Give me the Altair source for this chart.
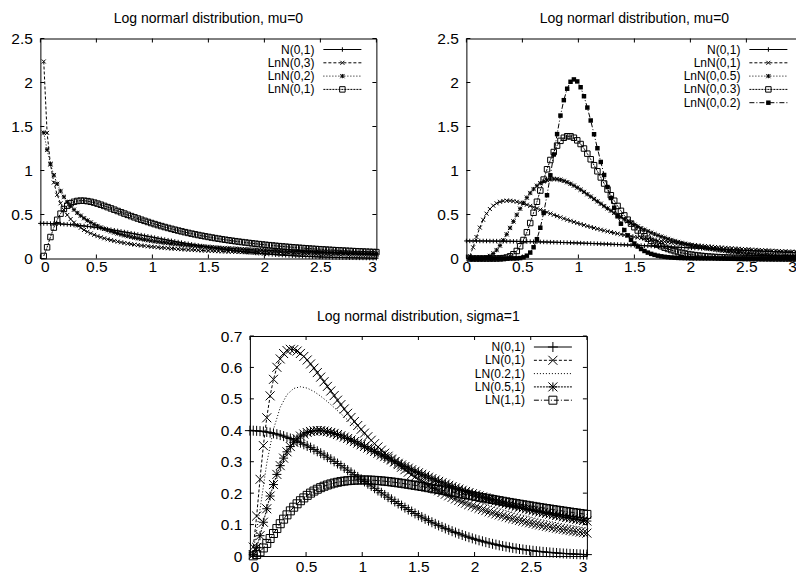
import altair as alt
import pandas as pd

FONT = "Liberation Sans"

# ---------------- data ----------------
# samples at x = 0.03, 0.09, ..., 2.97, 3.00 (coarse) and x = 0.06, 0.12, ..., 2.94 (mid)
x_norm = [0.00, 0.03, 0.09, 0.15, 0.21, 0.27, 0.33, 0.39, 0.45, 0.51, 0.57, 0.63, 0.69,
          0.75, 0.81, 0.87, 0.93, 0.99, 1.05, 1.11, 1.17, 1.23, 1.29, 1.35, 1.41, 1.47,
          1.53, 1.59, 1.65, 1.71, 1.77, 1.83, 1.89, 1.95, 2.01, 2.07, 2.13, 2.19, 2.25,
          2.31, 2.37, 2.43, 2.49, 2.55, 2.61, 2.67, 2.73, 2.79, 2.85, 2.91, 2.97, 3.00]
x_logn = [0.03, 0.09, 0.15, 0.21, 0.27, 0.33, 0.39, 0.45, 0.51, 0.57, 0.63, 0.69,
          0.75, 0.81, 0.87, 0.93, 0.99, 1.05, 1.11, 1.17, 1.23, 1.29, 1.35, 1.41, 1.47,
          1.53, 1.59, 1.65, 1.71, 1.77, 1.83, 1.89, 1.95, 2.01, 2.07, 2.13, 2.19, 2.25,
          2.31, 2.37, 2.43, 2.49, 2.55, 2.61, 2.67, 2.73, 2.79, 2.85, 2.91, 2.97, 3.00]
x_mid = [0.06, 0.12, 0.18, 0.24, 0.30, 0.36, 0.42, 0.48, 0.54, 0.60, 0.66, 0.72, 0.78,
         0.84, 0.90, 0.96, 1.02, 1.08, 1.14, 1.20, 1.26, 1.32, 1.38, 1.44, 1.50, 1.56,
         1.62, 1.68, 1.74, 1.80, 1.86, 1.92, 1.98, 2.04, 2.10, 2.16, 2.22, 2.28, 2.34,
         2.40, 2.46, 2.52, 2.58, 2.64, 2.70, 2.76, 2.82, 2.88, 2.94]

n_0_1 = [0.3989, 0.3988, 0.3973, 0.3945, 0.3902, 0.3847, 0.3778, 0.3697, 0.3605, 0.3503,
         0.3391, 0.3271, 0.3144, 0.3011, 0.2874, 0.2732, 0.2589, 0.2444, 0.2299, 0.2155,
         0.2012, 0.1872, 0.1736, 0.1604, 0.1476, 0.1354, 0.1238, 0.1127, 0.1023, 0.0925,
         0.0833, 0.0748, 0.0669, 0.0596, 0.0529, 0.0468, 0.0413, 0.0363, 0.0317, 0.0277,
         0.0241, 0.0208, 0.0180, 0.0154, 0.0132, 0.0113, 0.0096, 0.0081, 0.0069, 0.0058,
         0.0048, 0.0044]
n_0_1_mid = [0.3982, 0.3961, 0.3925, 0.3876, 0.3814, 0.3739, 0.3653, 0.3555, 0.3448,
             0.3332, 0.3209, 0.3079, 0.2943, 0.2803, 0.2661, 0.2516, 0.2371, 0.2227,
             0.2083, 0.1942, 0.1804, 0.1669, 0.1539, 0.1415, 0.1295, 0.1182, 0.1074,
             0.0973, 0.0878, 0.0789, 0.0707, 0.0632, 0.0562, 0.0498, 0.0440, 0.0387,
             0.0339, 0.0297, 0.0258, 0.0224, 0.0194, 0.0167, 0.0143, 0.0122, 0.0104,
             0.0088, 0.0075, 0.0063, 0.0053]
n_flat = [0.1995, 0.1995, 0.1993, 0.1989, 0.1984, 0.1977, 0.1968, 0.1957, 0.1945, 0.1931,
          0.1915, 0.1898, 0.1880, 0.1859, 0.1838, 0.1815, 0.1790, 0.1765, 0.1738, 0.1710,
          0.1681, 0.1651, 0.1620, 0.1588, 0.1556, 0.1523, 0.1489, 0.1454, 0.1419, 0.1384,
          0.1348, 0.1313, 0.1276, 0.1240, 0.1204, 0.1168, 0.1131, 0.1095, 0.1060, 0.1024,
          0.0989, 0.0954, 0.0919, 0.0885, 0.0851, 0.0818, 0.0786, 0.0754, 0.0723, 0.0692,
          0.0663, 0.0648]
n_flat_mid = [0.1994, 0.1991, 0.1987, 0.1980, 0.1972, 0.1963, 0.1951, 0.1938, 0.1923,
              0.1907, 0.1889, 0.1870, 0.1849, 0.1826, 0.1803, 0.1778, 0.1751, 0.1724,
              0.1696, 0.1666, 0.1636, 0.1604, 0.1572, 0.1539, 0.1506, 0.1472, 0.1437,
              0.1402, 0.1366, 0.1330, 0.1294, 0.1258, 0.1222, 0.1186, 0.1149, 0.1113,
              0.1077, 0.1042, 0.1006, 0.0971, 0.0936, 0.0902, 0.0868, 0.0835, 0.0802,
              0.0770, 0.0738, 0.0707, 0.0677]

lnn_0_3 = [2.2387, 1.0707, 0.7239, 0.5531, 0.4478, 0.3764, 0.3246, 0.2852, 0.2543, 0.2292,
           0.2086, 0.1913, 0.1765, 0.1638, 0.1527, 0.1430, 0.1343, 0.1266, 0.1197, 0.1135,
           0.1079, 0.1027, 0.0980, 0.0937, 0.0897, 0.0861, 0.0826, 0.0795, 0.0765, 0.0738,
           0.0712, 0.0688, 0.0665, 0.0644, 0.0624, 0.0605, 0.0587, 0.0570, 0.0554, 0.0538,
           0.0524, 0.0510, 0.0497, 0.0484, 0.0472, 0.0461, 0.0450, 0.0439, 0.0429, 0.0419,
           0.0415]
lnn_0_3_mid = [1.4278, 0.8633, 0.6274, 0.4948, 0.4090, 0.3486, 0.3037, 0.2689, 0.2411,
               0.2184, 0.1996, 0.1836, 0.1699, 0.1580, 0.1477, 0.1385, 0.1304, 0.1231,
               0.1165, 0.1106, 0.1052, 0.1003, 0.0958, 0.0917, 0.0879, 0.0843, 0.0810,
               0.0780, 0.0751, 0.0725, 0.0700, 0.0676, 0.0654, 0.0634, 0.0614, 0.0596,
               0.0578, 0.0562, 0.0546, 0.0531, 0.0517, 0.0503, 0.0490, 0.0478, 0.0466,
               0.0455, 0.0444, 0.0434, 0.0424]
lnn_0_2 = [1.4297, 1.0737, 0.8480, 0.7006, 0.5963, 0.5184, 0.4578, 0.4093, 0.3696, 0.3364,
           0.3083, 0.2842, 0.2632, 0.2449, 0.2287, 0.2143, 0.2015, 0.1899, 0.1795, 0.1700,
           0.1613, 0.1534, 0.1461, 0.1394, 0.1332, 0.1275, 0.1221, 0.1172, 0.1125, 0.1082,
           0.1041, 0.1003, 0.0968, 0.0934, 0.0902, 0.0872, 0.0844, 0.0817, 0.0791, 0.0767,
           0.0744, 0.0722, 0.0701, 0.0681, 0.0662, 0.0644, 0.0627, 0.0610, 0.0594, 0.0579,
           0.0572]
lnn_0_2_mid = [1.2360, 0.9477, 0.7673, 0.6443, 0.5547, 0.4863, 0.4323, 0.3885, 0.3523,
               0.3218, 0.2958, 0.2733, 0.2538, 0.2366, 0.2213, 0.2077, 0.1956, 0.1846,
               0.1746, 0.1655, 0.1573, 0.1497, 0.1427, 0.1362, 0.1303, 0.1247, 0.1196,
               0.1148, 0.1103, 0.1061, 0.1022, 0.0985, 0.0950, 0.0918, 0.0887, 0.0858,
               0.0830, 0.0804, 0.0779, 0.0755, 0.0733, 0.0711, 0.0691, 0.0672, 0.0653,
               0.0635, 0.0618, 0.0602, 0.0587]
lnn_0_1 = [0.0284, 0.2441, 0.4398, 0.5621, 0.6270, 0.6539, 0.6566, 0.6445, 0.6236, 0.5976,
           0.5691, 0.5397, 0.5104, 0.4817, 0.4541, 0.4278, 0.4030, 0.3795, 0.3575, 0.3368,
           0.3175, 0.2994, 0.2825, 0.2667, 0.2520, 0.2382, 0.2253, 0.2133, 0.2020, 0.1915,
           0.1816, 0.1724, 0.1637, 0.1556, 0.1479, 0.1407, 0.1340, 0.1276, 0.1216, 0.1160,
           0.1107, 0.1057, 0.1010, 0.0965, 0.0923, 0.0883, 0.0845, 0.0809, 0.0775, 0.0743,
           0.0727]
lnn_0_1_mid = [0.1271, 0.3512, 0.5095, 0.6004, 0.6442, 0.6576, 0.6520, 0.6349, 0.6110,
               0.5836, 0.5545, 0.5250, 0.4959, 0.4678, 0.4408, 0.4152, 0.3910, 0.3683,
               0.3470, 0.3270, 0.3083, 0.2908, 0.2745, 0.2592, 0.2450, 0.2317, 0.2192,
               0.2076, 0.1967, 0.1865, 0.1769, 0.1680, 0.1596, 0.1517, 0.1443, 0.1373,
               0.1308, 0.1246, 0.1188, 0.1133, 0.1082, 0.1033, 0.0987, 0.0943, 0.0902,
               0.0863, 0.0827, 0.0792, 0.0759]
lnn_0_05 = [0.0000, 0.0001, 0.0040, 0.0291, 0.0958, 0.2069, 0.3473, 0.4953, 0.6318, 0.7441,
            0.8264, 0.8780, 0.9016, 0.9013, 0.8822, 0.8490, 0.8058, 0.7563, 0.7033, 0.6492,
            0.5954, 0.5433, 0.4936, 0.4469, 0.4034, 0.3632, 0.3264, 0.2928, 0.2624, 0.2349,
            0.2100, 0.1877, 0.1677, 0.1498, 0.1337, 0.1194, 0.1066, 0.0952, 0.0850, 0.0759,
            0.0679, 0.0607, 0.0542, 0.0485, 0.0434, 0.0389, 0.0348, 0.0312, 0.0280, 0.0251,
            0.0238]
lnn_0_05_mid = [0.0000, 0.0008, 0.0124, 0.0566, 0.1465, 0.2748, 0.4217, 0.5660, 0.6914,
                0.7891, 0.8559, 0.8931, 0.9041, 0.8938, 0.8671, 0.8284, 0.7816, 0.7301,
                0.6763, 0.6221, 0.5691, 0.5181, 0.4698, 0.4247, 0.3829, 0.3444, 0.3092,
                0.2772, 0.2483, 0.2221, 0.1986, 0.1774, 0.1585, 0.1415, 0.1264, 0.1128,
                0.1007, 0.0900, 0.0803, 0.0718, 0.0642, 0.0574, 0.0513, 0.0459, 0.0411,
                0.0368, 0.0330, 0.0296, 0.0265]
lnn_0_03 = [0.0000, 0.0000, 0.0000, 0.0000, 0.0004, 0.0044, 0.0248, 0.0855, 0.2100, 0.4032,
            0.6447, 0.8969, 1.1196, 1.2828, 1.3724, 1.3887, 1.3425, 1.2499, 1.1277, 0.9911,
            0.8521, 0.7190, 0.5973, 0.4895, 0.3966, 0.3182, 0.2532, 0.2001, 0.1572, 0.1228,
            0.0955, 0.0741, 0.0572, 0.0441, 0.0339, 0.0261, 0.0200, 0.0153, 0.0117, 0.0090,
            0.0069, 0.0052, 0.0040, 0.0031, 0.0024, 0.0018, 0.0014, 0.0011, 0.0008, 0.0006,
            0.0005]
lnn_0_03_mid = [0.0000, 0.0000, 0.0000, 0.0001, 0.0014, 0.0112, 0.0484, 0.1389, 0.2988,
                0.5201, 0.7721, 1.0141, 1.2099, 1.3371, 1.3892, 1.3725, 1.3009, 1.1914,
                1.0604, 0.9213, 0.7844, 0.6565, 0.5415, 0.4412, 0.3557, 0.2842, 0.2253,
                0.1775, 0.1390, 0.1084, 0.0842, 0.0651, 0.0503, 0.0387, 0.0297, 0.0228,
                0.0175, 0.0134, 0.0103, 0.0078, 0.0060, 0.0046, 0.0035, 0.0027, 0.0021,
                0.0016, 0.0012, 0.0009, 0.0007]
lnn_0_02 = [0.0000, 0.0000, 0.0000, 0.0000, 0.0000, 0.0000, 0.0001, 0.0015, 0.0135, 0.0674,
            0.2196, 0.5171, 0.9452, 1.4137, 1.7992, 2.0082, 2.0123, 1.8440, 1.5683, 1.2528,
            0.9491, 0.6875, 0.4793, 0.3234, 0.2122, 0.1360, 0.0853, 0.0526, 0.0319, 0.0192,
            0.0114, 0.0067, 0.0039, 0.0022, 0.0013, 0.0007, 0.0004, 0.0002, 0.0001, 0.0001,
            0.0000, 0.0000, 0.0000, 0.0000, 0.0000, 0.0000, 0.0000, 0.0000, 0.0000, 0.0000,
            0.0000]
lnn_0_02_mid = [0.0000, 0.0000, 0.0000, 0.0000, 0.0000, 0.0000, 0.0004, 0.0049, 0.0321,
                0.1274, 0.3492, 0.7190, 1.1821, 1.6240, 1.9292, 2.0350, 1.9460, 1.7152,
                1.4118, 1.0971, 0.8120, 0.5766, 0.3952, 0.2629, 0.1703, 0.1080, 0.0671,
                0.0411, 0.0248, 0.0148, 0.0087, 0.0051, 0.0030, 0.0017, 0.0010, 0.0006,
                0.0003, 0.0002, 0.0001, 0.0001, 0.0000, 0.0000, 0.0000, 0.0000, 0.0000,
                0.0000, 0.0000, 0.0000, 0.0000]
ln_02_1 = [0.0138, 0.1478, 0.2950, 0.4032, 0.4730, 0.5135, 0.5331, 0.5385, 0.5342, 0.5235,
           0.5086, 0.4912, 0.4723, 0.4527, 0.4329, 0.4133, 0.3942, 0.3756, 0.3578, 0.3407,
           0.3243, 0.3088, 0.2940, 0.2800, 0.2668, 0.2542, 0.2423, 0.2311, 0.2205, 0.2104,
           0.2009, 0.1919, 0.1834, 0.1753, 0.1677, 0.1605, 0.1536, 0.1471, 0.1410, 0.1351,
           0.1296, 0.1243, 0.1193, 0.1146, 0.1101, 0.1058, 0.1017, 0.0978, 0.0941, 0.0905,
           0.0888]
ln_05_1 = [0.0044, 0.0646, 0.1503, 0.2273, 0.2875, 0.3315, 0.3619, 0.3816, 0.3930, 0.3982,
           0.3987, 0.3956, 0.3901, 0.3826, 0.3738, 0.3641, 0.3538, 0.3432, 0.3324, 0.3215,
           0.3107, 0.3001, 0.2897, 0.2795, 0.2696, 0.2600, 0.2507, 0.2418, 0.2331, 0.2248,
           0.2168, 0.2091, 0.2017, 0.1946, 0.1878, 0.1813, 0.1750, 0.1689, 0.1632, 0.1576,
           0.1523, 0.1472, 0.1423, 0.1376, 0.1330, 0.1287, 0.1245, 0.1205, 0.1167, 0.1130,
           0.1112]
ln_05_1_mid = [0.0275, 0.1074, 0.1908, 0.2596, 0.3114, 0.3482, 0.3729, 0.3882, 0.3963,
               0.3989, 0.3975, 0.3931, 0.3865, 0.3783, 0.3691, 0.3590, 0.3485, 0.3378,
               0.3269, 0.3161, 0.3054, 0.2949, 0.2846, 0.2745, 0.2648, 0.2553, 0.2462,
               0.2374, 0.2289, 0.2208, 0.2129, 0.2054, 0.1981, 0.1912, 0.1845, 0.1781,
               0.1719, 0.1660, 0.1604, 0.1549, 0.1497, 0.1447, 0.1399, 0.1353, 0.1308,
               0.1266, 0.1225, 0.1186, 0.1148]
ln_1_1 = [0.0005, 0.0133, 0.0400, 0.0716, 0.1027, 0.1309, 0.1553, 0.1759, 0.1929, 0.2066,
          0.2175, 0.2259, 0.2322, 0.2367, 0.2396, 0.2413, 0.2420, 0.2417, 0.2407, 0.2390,
          0.2368, 0.2343, 0.2313, 0.2281, 0.2247, 0.2211, 0.2173, 0.2135, 0.2095, 0.2056,
          0.2016, 0.1976, 0.1936, 0.1896, 0.1857, 0.1818, 0.1780, 0.1742, 0.1704, 0.1668,
          0.1632, 0.1596, 0.1561, 0.1527, 0.1494, 0.1461, 0.1429, 0.1398, 0.1368, 0.1338,
          0.1323]
ln_1_1_mid = [0.0046, 0.0256, 0.0556, 0.0874, 0.1172, 0.1436, 0.1661, 0.1848, 0.2001,
              0.2124, 0.2220, 0.2293, 0.2346, 0.2383, 0.2406, 0.2418, 0.2419, 0.2413,
              0.2399, 0.2380, 0.2356, 0.2328, 0.2297, 0.2264, 0.2229, 0.2192, 0.2154,
              0.2115, 0.2076, 0.2036, 0.1996, 0.1956, 0.1916, 0.1877, 0.1838, 0.1799,
              0.1761, 0.1723, 0.1686, 0.1649, 0.1614, 0.1579, 0.1544, 0.1511, 0.1478,
              0.1445, 0.1414, 0.1383, 0.1353]

x_ticks = [0, 0.5, 1, 1.5, 2, 2.5, 3]
y_ticks_top = [0, 0.5, 1, 1.5, 2, 2.5]
y_ticks_bottom = [0, 0.1, 0.2, 0.3, 0.4, 0.5, 0.6, 0.7]

title_tl = "Log normarl distribution, mu=0"
title_tr = "Log normarl distribution, mu=0"
title_b = "Log normal distribution, sigma=1"

names_tl = ["N(0,1)", "LnN(0,3)", "LnN(0,2)", "LnN(0,1)"]
names_tr = ["N(0,1)", "LnN(0,1)", "LnN(0,0.5)", "LnN(0,0.3)", "LnN(0,0.2)"]
names_b = ["N(0,1)", "LN(0,1)", "LN(0.2,1)", "LN(0.5,1)", "LN(1,1)"]

# ---------------- styles ----------------
PLUS = "M-1,0L1,0M0,-1L0,1"
CROSS = "M-1,-1L1,1M-1,1L1,-1"
STAR = "M-1,0L1,0M0,-1L0,1M-1,-1L1,1M-1,1L1,-1"
LT2 = [3, 2]
LT3 = [1, 2]
LT4 = [2, 1]
LT5 = [5, 2, 1, 2]

KEY_FONT = 12
KEY_STEP = 13.3
TICK_FONT = 15.5


def style(dash, shape, size, filled=False):
    return {"dash": dash, "shape": shape, "size": size, "filled": filled}


styles_tl = [style(None, PLUS, 20), style(LT2, CROSS, 16), style(LT3, STAR, 18),
             style(LT4, "square", 30)]
styles_tr = [style(None, PLUS, 20), style(LT2, CROSS, 16), style(LT3, STAR, 18),
             style(LT4, "square", 30), style(LT5, "square", 20, True)]
styles_b = [style(None, PLUS, 100), style(LT2, CROSS, 81), style(LT3, None, 0),
            style(LT4, STAR, 81), style(LT5, "square", 64)]


def table(parts):
    xs, ys = [], []
    for xv, yv in parts:
        xs += list(xv)
        ys += list(yv)
    return pd.DataFrame({"x": xs, "y": ys}).sort_values("x").reset_index(drop=True)


def make_panel(title, names, series, styles, ymax, yticks, W, H, xlab_pad,
               pull_last=False, right_room=0):
    xs = alt.Scale(domain=[0, 3], nice=False, zero=False)
    ys = alt.Scale(domain=[0, ymax], nice=False, zero=False)
    xkw = dict(values=x_ticks, format="~g", ticks=False, domain=False, grid=False,
               labelFont=FONT, labelFontSize=TICK_FONT, labelColor="black",
               labelPadding=xlab_pad, title=None)
    if pull_last:
        # keep the last label inside the picture
        xkw["labelAlign"] = {"condition": {"test": "datum.value >= 3", "value": "right"},
                             "value": "center"}
        xkw["labelOffset"] = {"condition": {"test": "datum.value >= 3", "value": -6},
                              "value": 0}
    ax = alt.Axis(**xkw)
    ay = alt.Axis(values=yticks, format="~g", ticks=False, domain=False, grid=False,
                  labelFont=FONT, labelFontSize=TICK_FONT, labelColor="black",
                  labelPadding=8, title=None)
    layers = []
    # inner ticks (gnuplot style, mirrored)
    xt = pd.DataFrame({"v": x_ticks})
    yt = pd.DataFrame({"v": yticks})
    tick_x = alt.Chart(xt).mark_rule(color="black", strokeWidth=1)
    layers.append(tick_x.encode(x=alt.X("v:Q", scale=xs, axis=ax),
                                y=alt.value(H), y2=alt.value(H - 4)))
    layers.append(tick_x.encode(x=alt.X("v:Q", scale=xs, axis=ax),
                                y=alt.value(0), y2=alt.value(4)))
    tick_y = alt.Chart(yt).mark_rule(color="black", strokeWidth=1)
    layers.append(tick_y.encode(y=alt.Y("v:Q", scale=ys, axis=ay),
                                x=alt.value(0), x2=alt.value(4)))
    layers.append(tick_y.encode(y=alt.Y("v:Q", scale=ys, axis=ay),
                                x=alt.value(W), x2=alt.value(W - 4)))
    if right_room:
        # invisible spacer so the centred lower panel sits where the reference has it
        layers.append(alt.Chart(xt).mark_rule(opacity=0).encode(
            x=alt.value(W), x2=alt.value(W + right_room), y=alt.value(H)))

    for i, (name, parts, st) in enumerate(zip(names, series, styles)):
        df = table(parts)
        base = alt.Chart(df).encode(x=alt.X("x:Q", scale=xs, axis=ax),
                                    y=alt.Y("y:Q", scale=ys, axis=ay),
                                    order=alt.Order("x:Q"))
        lkw = dict(color="black", strokeWidth=1)
        if st["dash"]:
            lkw["strokeDash"] = st["dash"]
        layers.append(base.mark_line(**lkw))
        pkw = None
        if st["shape"]:
            pkw = dict(shape=st["shape"], size=st["size"], filled=st["filled"],
                       color="black", strokeWidth=1, opacity=1)
            layers.append(base.mark_point(**pkw))
        # key entry (gnuplot style: label, then sample)
        yy = 11 + KEY_STEP * i
        kd = pd.DataFrame({"t": [name]})
        layers.append(alt.Chart(kd).mark_text(align="right", baseline="middle", font=FONT,
                                              fontSize=KEY_FONT, color="black").encode(
            text="t:N", x=alt.value(W - 62), y=alt.value(yy)))
        layers.append(alt.Chart(kd).mark_rule(**lkw).encode(
            x=alt.value(W - 53), x2=alt.value(W - 15), y=alt.value(yy)))
        if pkw:
            layers.append(alt.Chart(kd).mark_point(**pkw).encode(
                x=alt.value(W - 34), y=alt.value(yy)))

    return alt.layer(*layers).properties(
        width=W, height=H,
        title=alt.TitleParams(text=title, font=FONT, fontSize=14, fontWeight="normal",
                              color="black", offset=5.5, anchor="middle"))


s_n01 = [(x_norm, n_0_1), (x_mid, n_0_1_mid)]
s_nflat = [(x_norm, n_flat), (x_mid, n_flat_mid)]
s_l03 = [(x_logn, lnn_0_3), (x_mid, lnn_0_3_mid)]
s_l02 = [(x_logn, lnn_0_2), (x_mid, lnn_0_2_mid)]
s_l01 = [(x_logn, lnn_0_1), (x_mid, lnn_0_1_mid)]
s_l005 = [(x_logn, lnn_0_05), (x_mid, lnn_0_05_mid)]
s_l003 = [(x_logn, lnn_0_03), (x_mid, lnn_0_03_mid)]
s_l002 = [(x_logn, lnn_0_02), (x_mid, lnn_0_02_mid)]
s_m02 = [(x_logn, ln_02_1)]
s_m05 = [(x_logn, ln_05_1), (x_mid, ln_05_1_mid)]
s_m1 = [(x_logn, ln_1_1), (x_mid, ln_1_1_mid)]

tl = make_panel(title_tl, names_tl, [s_n01, s_l03, s_l02, s_l01], styles_tl, 2.5,
                y_ticks_top, 336, 220, 1)
tr = make_panel(title_tr, names_tr, [s_nflat, s_l01, s_l005, s_l003, s_l002], styles_tr,
                2.5, y_ticks_top, 336, 220, 1, pull_last=True)
bt = make_panel(title_b, names_b, [s_n01, s_l01, s_m02, s_m05, s_m1], styles_b, 0.7,
                y_ticks_bottom, 337, 220, 3, right_room=10.7)

top = alt.hconcat(tl, tr, spacing=90, bounds="flush")
# fixed-size canvas (788 x 568): the right edge of the upper-right panel runs off the
# picture just as in the reference
chart = alt.vconcat(top, bt, spacing=33.5, center=True).properties(
    autosize=alt.AutoSizeParams(type="none"),
    padding={"left": 32, "top": 30.5, "right": 756, "bottom": 537.5}
).configure_view(stroke="black", strokeWidth=1)

chart.save("out.html", embed_options={"renderer": "svg", "actions": False})
